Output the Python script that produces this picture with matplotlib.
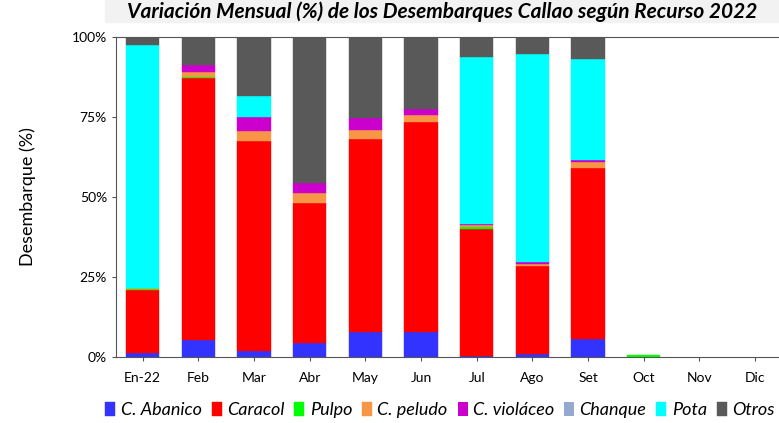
import numpy as np
import matplotlib
matplotlib.use("Agg")
import matplotlib.pyplot as plt
from matplotlib.patches import Rectangle

plt.rcParams['font.family'] = ['Lato', 'DejaVu Sans']

meses = ['En-22', 'Feb', 'Mar', 'Abr', 'May', 'Jun', 'Jul', 'Ago', 'Set', 'Oct', 'Nov', 'Dic']

# % por recurso (lectura del grafico)
abanico  = [1.4, 5.3, 1.9, 4.3, 7.9, 7.9, 0.3, 1.0, 5.5, 0, 0, 0]
caracol  = [19.5, 81.8, 65.7, 43.8, 60.1, 65.6, 39.7, 27.5, 53.7, 0, 0, 0]
pulpo    = [0.3, 0.5, 0, 0, 0, 0, 0.7, 0, 0, 0.5, 0, 0]
peludo   = [0.5, 1.6, 3.0, 3.3, 2.9, 2.1, 0.5, 0.7, 1.6, 0, 0, 0]
violaceo = [0, 1.9, 4.3, 3.0, 3.9, 1.8, 0.5, 0.6, 0.9, 0, 0, 0]
chanque  = [0, 0, 0, 0, 0, 0, 0, 0, 0, 0, 0, 0]
pota     = [75.7, 0, 6.8, 0, 0, 0, 52.2, 64.9, 31.3, 0, 0, 0]
otros    = [2.6, 8.9, 18.3, 45.5, 25.2, 22.6, 6.1, 5.2, 7.0, 0, 0, 0]

series = [('C. Abanico', abanico, '#3333FF'),
          ('Caracol', caracol, '#FF0000'),
          ('Pulpo', pulpo, '#00FF00'),
          ('C. peludo', peludo, '#F79646'),
          ('C. violáceo', violaceo, '#CC00CC'),
          ('Chanque', chanque, '#95A9CF'),
          ('Pota', pota, '#00FFFF'),
          ('Otros', otros, '#595959')]

fig = plt.figure(figsize=(7.79, 4.23), dpi=100)
ax = fig.add_axes([116/779, 66/423, 663/779, 320/423])

x = np.arange(len(meses))
bottom = np.zeros(len(meses))
for name, vals, col in series:
    vals = np.array(vals, dtype=float)
    lw = np.where(vals > 0, 0.3, 0)
    ax.bar(x, vals, width=0.6, bottom=bottom, color=col, label=name,
           edgecolor=col, linewidth=lw)
    bottom += vals

ax.set_xlim(-0.48, 11.43)
ax.set_ylim(0, 100)
ax.set_yticks([0, 25, 50, 75, 100])
ax.set_yticklabels(['0%', '25%', '50%', '75%', '100%'], fontsize=10)
ax.set_xticks(x)
ax.set_xticklabels(meses, fontsize=10)
ax.tick_params(axis='both', length=3, color='#555555')
ax.tick_params(axis='x', pad=8)
ax.set_ylabel('Desembarque (%)', fontsize=13, labelpad=26)
for s in ['left', 'bottom', 'top']:
    ax.spines[s].set_color('#555555')
ax.spines['right'].set_visible(False)

# banda gris del titulo
fig.patches.append(Rectangle((105/779, 1 - 22/423), 674/779, 22/423,
                             transform=fig.transFigure, color='#F2F2F2', zorder=0))
fig.text(442/779, 1 - 12/423, 'Variación Mensual (%) de los Desembarques Callao según Recurso 2022',
         ha='center', va='center', fontsize=15, fontweight='bold', fontstyle='italic')

leg = ax.legend(loc='center', bbox_to_anchor=(440/779, 13/423), bbox_transform=fig.transFigure,
                ncol=8, frameon=False, handlelength=0.55, handleheight=0.85, handletextpad=0.3,
                columnspacing=0.55, prop={'style': 'italic', 'size': 13})

fig.savefig('out.png', dpi=100)
